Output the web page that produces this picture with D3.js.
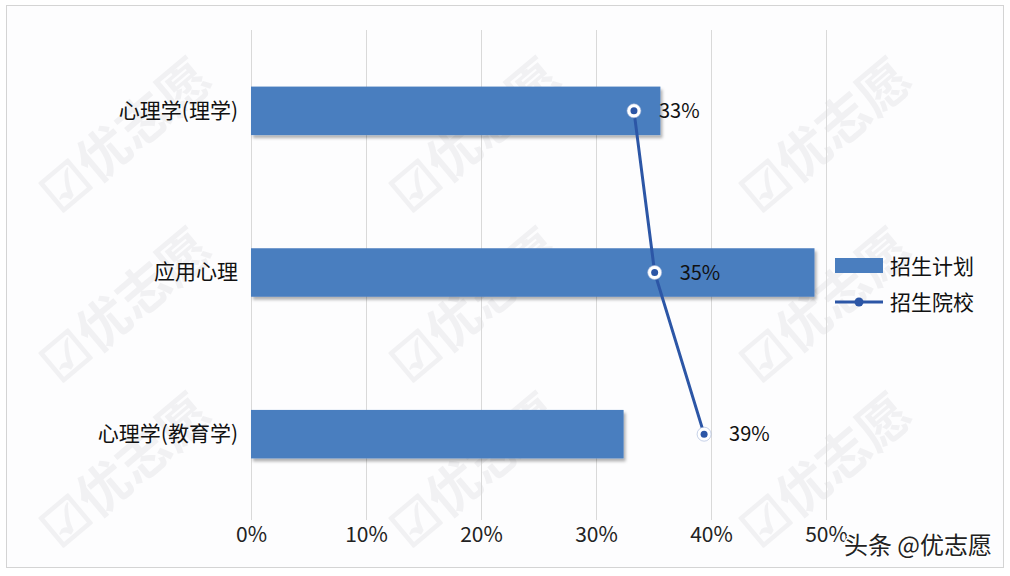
<!DOCTYPE html>
<html><head><meta charset="utf-8">
<script src="https://cdn.jsdelivr.net/npm/d3@7"></script>
<style>
html,body{margin:0;padding:0;background:#fff;}
svg{display:block;font-family:"Noto Sans CJK SC","Noto Sans",sans-serif;}
</style></head>
<body>
<svg id="c" width="1010" height="576"></svg>
<script>
const categories = ["心理学(理学)", "应用心理", "心理学(教育学)"];
const planValues = [35.6, 49.0, 32.4];      // 招生计划 (bars, %)
const schoolValues = [33.3, 35.1, 39.4];    // 招生院校 (line, %)
const xTicks = [0, 10, 20, 30, 40, 50];
const legendLabels = ["招生计划", "招生院校"];
const watermarkText = "优志愿";
const creditText = "头条 @优志愿";

const svg = d3.select("#c");
const barColor = "#4a7ebf", lineColor = "#2c56a6";

// outer frame
svg.append("rect").attr("x", 6.5).attr("y", 5.5).attr("width", 997).attr("height", 562)
  .attr("fill", "#fdfdfe").attr("stroke", "#d4d4d4");

// faint watermarks
const wmPos = [[60,215],[410,215],[760,215],[60,385],[410,385],[760,385],[60,550],[410,550],[760,550]];
const wm = svg.append("g").attr("fill", "#f1f1f3").attr("font-size", 52).attr("font-weight", "bold");
wmPos.forEach(([px,py]) => {
  wm.append("text").attr("transform", `translate(${px},${py}) rotate(-40)`).text("☑" + watermarkText);
});

const x = d3.scaleLinear().domain([0, 50]).range([251, 826]);
const y = d3.scaleBand().domain(categories).range([30, 515]).paddingInner(0.7).paddingOuter(0.35);

// gridlines
svg.append("g").selectAll("line").data(xTicks).join("line")
  .attr("x1", d => x(d) + 0.5).attr("x2", d => x(d) + 0.5)
  .attr("y1", 30).attr("y2", 520).attr("stroke", "#d9d9d9").attr("stroke-width", 1);

// x axis labels
const xAxis = d3.axisBottom(x).tickValues(xTicks).tickSize(0).tickPadding(0).tickFormat(d => d + "%");
const gx = svg.append("g").attr("transform", "translate(0,527)").call(xAxis);
gx.select(".domain").remove();
gx.selectAll("text").attr("font-size", 21).attr("fill", "#222").attr("font-family", "'Noto Sans CJK SC',sans-serif");

// y axis labels
const yAxis = d3.axisLeft(y).tickSize(0).tickPadding(0);
const gy = svg.append("g").attr("transform", "translate(238,0)").call(yAxis);
gy.select(".domain").remove();
gy.selectAll("text").attr("font-size", 21).attr("fill", "#111").attr("font-family", "'Noto Sans CJK SC',sans-serif");

// bar shadows
const defs = svg.append("defs");
const f = defs.append("filter").attr("id", "sh").attr("x", "-5%").attr("y", "-20%").attr("width", "110%").attr("height", "150%");
f.append("feDropShadow").attr("dx", 2).attr("dy", 3).attr("stdDeviation", 1.5).attr("flood-color", "#000").attr("flood-opacity", 0.3);

svg.append("g").selectAll("rect").data(categories).join("rect")
  .attr("x", x(0)).attr("y", d => y(d))
  .attr("width", (d, i) => x(planValues[i]) - x(0))
  .attr("height", y.bandwidth())
  .attr("fill", barColor).attr("filter", "url(#sh)");

// line
const pts = categories.map((c, i) => [x(schoolValues[i]), y(c) + y.bandwidth() / 2]);
svg.append("path").datum(pts).attr("d", d3.line()).attr("fill", "none")
  .attr("stroke", lineColor).attr("stroke-width", 3);
const mk = svg.append("g").selectAll("g").data(pts).join("g").attr("transform", d => `translate(${d[0]},${d[1]})`);
mk.append("circle").attr("r", 7).attr("fill", "#fff").attr("stroke", "#9fb2d8").attr("stroke-width", 0.6);
mk.append("circle").attr("r", 3.5).attr("fill", lineColor);

// data labels
const fmt = d3.format(".0%");
svg.append("g").selectAll("text").data(pts).join("text")
  .attr("x", d => d[0] + 25).attr("y", d => d[1]).attr("dy", "0.36em")
  .attr("font-size", 20).attr("fill", "#111")
  .text((d, i) => fmt(schoolValues[i] / 100));

// legend
const lg = svg.append("g").attr("transform", "translate(835,0)");
lg.append("rect").attr("x", 0).attr("y", 258).attr("width", 48).attr("height", 15).attr("fill", barColor);
lg.append("text").attr("x", 55).attr("y", 266).attr("dy", "0.36em").attr("font-size", 21).attr("fill", "#111").text(legendLabels[0]);
lg.append("line").attr("x1", 0).attr("x2", 48).attr("y1", 302).attr("y2", 302).attr("stroke", lineColor).attr("stroke-width", 3);
lg.append("circle").attr("cx", 24).attr("cy", 302).attr("r", 4.5).attr("fill", lineColor);
lg.append("text").attr("x", 55).attr("y", 302).attr("dy", "0.36em").attr("font-size", 21).attr("fill", "#111").text(legendLabels[1]);

// credit
svg.append("text").attr("x", 992).attr("y", 545).attr("dy", "0.36em").attr("text-anchor", "end")
  .attr("font-size", 24).attr("fill", "#222")
  .attr("stroke", "#fff").attr("stroke-width", 3).attr("paint-order", "stroke").text(creditText);
</script>
</body></html>
